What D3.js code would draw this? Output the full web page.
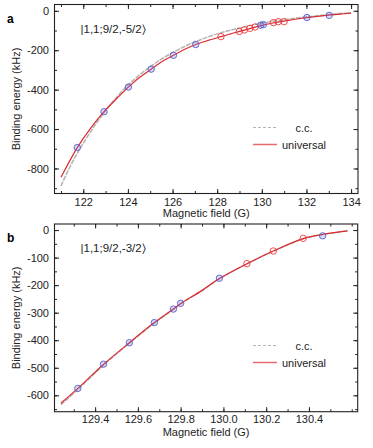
<!DOCTYPE html>
<html>
<head>
<meta charset="utf-8">
<script src="https://cdn.jsdelivr.net/npm/d3@7"></script>
<style>
  body { margin: 0; background: #fff; }
  svg { display: block; font-family: "Liberation Sans", Arial, sans-serif; }
</style>
</head>
<body>
<svg id="chart" width="373" height="448"></svg>
<script>
// ---- panel a data ----
var aUnivB = [121.0, 121.73, 122.3, 122.93, 123.5, 124.02, 124.5, 125.04, 125.5, 126.04, 126.5, 127.04, 127.6, 128.17, 128.6, 129.0, 129.5, 130.0, 130.5, 131.0, 131.5, 132.0, 132.5, 133.0, 133.5, 134.0];
var aUnivE = [-845, -694, -600, -512, -445, -387, -340, -296, -260, -226, -198, -171, -150, -131, -117, -104, -89, -74, -62, -52, -43, -35, -28, -22, -17, -12];
var aCcB = [121.0, 121.5, 122.0, 122.5, 123.0, 123.5, 124.0, 124.5, 125.0, 125.5, 126.0, 126.5, 127.0, 127.5, 128.0, 128.5, 129.0, 129.5, 130.0, 130.5, 131.0, 131.5, 132.0, 132.5, 133.0, 133.5, 134.0];
var aCcE = [-888, -770, -672, -585, -506, -438, -377, -327, -283, -245, -212, -183, -158, -136, -117, -101, -87, -74, -63, -53, -45, -37, -31, -25, -19, -14, -10];
var aBlueB = [121.73, 122.93, 124.02, 125.04, 126.04, 127.04, 129.95, 130.07, 132.02, 133.02];
var aBlueE = [-694, -512, -387, -296, -226, -171, -73, -70, -34, -23];
var aRedB = [128.17, 128.99, 129.22, 129.47, 129.70, 130.52, 130.74, 131.00];
var aRedE = [-131, -105, -97, -89, -82, -60, -55, -55];

// ---- panel b data ----
var bUnivB = [129.24, 129.319, 129.44, 129.56, 129.677, 129.766, 129.80, 129.90, 129.981, 130.11, 130.233, 130.373, 130.464, 130.58];
var bUnivE = [-629, -575, -487, -409, -336, -287, -267, -219, -176, -122, -76, -31, -16, -3];
var bCcB = [129.24, 129.319, 129.44, 129.56, 129.677, 129.766, 129.80, 129.90, 129.981, 130.11, 130.233, 130.373, 130.464, 130.58];
var bCcE = [-634, -579, -490, -411, -338, -288, -268, -220, -177, -123, -77, -32, -16, -3];
var bBlueB = [129.319, 129.439, 129.56, 129.677, 129.766, 129.80, 129.981, 130.464];
var bBlueE = [-575, -487, -409, -336, -287, -266, -175, -21];
var bRedB = [130.11, 130.233, 130.373];
var bRedE = [-122, -76, -30];

var RED = "#dd2a30", GRAY = "#b4b4b4", BLUE = "#5a5ac8";

var svg = d3.select("#chart");

function zip(xs, ys) {
    return xs.map(function (v, i) { return [v, ys[i]]; });
}

function range(a, b, step) {
    var out = [];
    for (var v = a; v <= b + step / 1000; v += step) out.push(+v.toFixed(4));
    return out;
}

function drawPanel(p) {
    var x = d3.scaleLinear().domain(p.xDomain).range([p.left, p.right]);
    var y = d3.scaleLinear().domain(p.yDomain).range([p.bottom, p.top]);
    var g = svg.append("g");

    // minor ticks on all four sides
    var minorX = range(p.xMinor[0], p.xMinor[1], p.xMinor[2]);
    var minorY = range(p.yMinor[0], p.yMinor[1], p.yMinor[2]);
    g.append("g").attr("transform", "translate(0," + p.bottom + ")")
        .call(d3.axisBottom(x).tickValues(minorX).tickSize(-2.5).tickFormat(""));
    g.append("g").attr("transform", "translate(0," + p.top + ")")
        .call(d3.axisTop(x).tickValues(minorX).tickSize(-2.5).tickFormat(""));
    g.append("g").attr("transform", "translate(" + p.left + ",0)")
        .call(d3.axisLeft(y).tickValues(minorY).tickSize(-2.5).tickFormat(""));
    g.append("g").attr("transform", "translate(" + p.right + ",0)")
        .call(d3.axisRight(y).tickValues(minorY).tickSize(-2.5).tickFormat(""));

    // major ticks
    g.append("g").attr("class", "xlab").attr("transform", "translate(0," + p.bottom + ")")
        .call(d3.axisBottom(x).tickValues(p.xTicks).tickSize(-4.5).tickPadding(p.xPad).tickFormat(p.xFmt));
    g.append("g").attr("transform", "translate(0," + p.top + ")")
        .call(d3.axisTop(x).tickValues(p.xTicks).tickSize(-4.5).tickFormat(""));
    g.append("g").attr("class", "ylab").attr("transform", "translate(" + p.left + ",0)")
        .call(d3.axisLeft(y).tickValues(p.yTicks).tickSize(-4.5).tickPadding(5.5).tickFormat(d3.format("d")));
    g.append("g").attr("transform", "translate(" + p.right + ",0)")
        .call(d3.axisRight(y).tickValues(p.yTicks).tickSize(-4.5).tickFormat(""));

    g.selectAll(".domain").remove();
    g.selectAll(".tick line").attr("stroke", "#222").attr("stroke-width", 1);
    g.selectAll(".tick text").attr("fill", "#222").attr("font-size", "11px")
        .attr("font-family", "Liberation Sans, Arial, sans-serif")
        .text(function () { return this.textContent.replace("\u2212", "-"); });

    // frame
    g.append("rect")
        .attr("x", p.left).attr("y", p.top)
        .attr("width", p.right - p.left).attr("height", p.bottom - p.top)
        .attr("fill", "none").attr("stroke", "#222").attr("stroke-width", 1.1);

    var line = d3.line()
        .x(function (d) { return x(d[0]); })
        .y(function (d) { return y(d[1]); })
        .curve(d3.curveCatmullRom.alpha(0.5));

    g.append("path").datum(zip(p.ccB, p.ccE))
        .attr("d", line).attr("fill", "none")
        .attr("stroke", GRAY).attr("stroke-width", 1.5).attr("stroke-dasharray", "5,1");
    g.append("path").datum(zip(p.univB, p.univE))
        .attr("d", line).attr("fill", "none")
        .attr("stroke", RED).attr("stroke-width", 1.2);

    // red markers
    g.selectAll(".red").data(zip(p.redB, p.redE)).enter()
        .append("circle").attr("class", "red")
        .attr("cx", function (d) { return x(d[0]); })
        .attr("cy", function (d) { return y(d[1]); })
        .attr("r", 3.2).attr("fill", "none")
        .attr("stroke", "#ee3a3a").attr("stroke-width", 0.9);

    // blue markers
    var blue = g.selectAll(".blue").data(zip(p.blueB, p.blueE)).enter()
        .append("g").attr("class", "blue")
        .attr("transform", function (d) { return "translate(" + x(d[0]) + "," + y(d[1]) + ")"; });
    blue.append("circle").attr("r", 3.2)
        .attr("fill", "rgba(120,120,220,0.25)")
        .attr("stroke", BLUE).attr("stroke-width", 0.9);

    // state label
    g.append("text")
        .attr("x", p.left + 26).attr("y", p.top + 28)
        .attr("font-size", "11.5px").attr("fill", "#222")
        .text(p.state);

    // panel letter
    g.append("text")
        .attr("x", 7).attr("y", p.top + 18)
        .attr("font-size", "12px").attr("font-weight", "bold")
        .attr("font-family", "Liberation Sans, Arial, sans-serif")
        .text(p.letter);

    // axis titles
    g.append("text")
        .attr("transform", "translate(20," + ((p.top + p.bottom) / 2) + ") rotate(-90)")
        .attr("text-anchor", "middle").attr("font-size", "11px").attr("fill", "#222")
        .text("Binding energy (kHz)");
    g.append("text")
        .attr("x", (p.left + p.right) / 2).attr("y", p.xTitleY)
        .attr("text-anchor", "middle").attr("font-size", "11px").attr("fill", "#222")
        .text("Magnetic field (G)");

    // legend
    var lg = g.append("g");
    lg.append("line")
        .attr("x1", 253).attr("x2", 277).attr("y1", p.legY).attr("y2", p.legY)
        .attr("stroke", GRAY).attr("stroke-width", 1.2).attr("stroke-dasharray", "3,2");
    lg.append("text").attr("x", 304).attr("y", p.legY + 4)
        .attr("text-anchor", "middle").attr("font-size", "11px").attr("fill", "#222")
        .text("c.c.");
    lg.append("line")
        .attr("x1", 253).attr("x2", 277).attr("y1", p.legY + 17).attr("y2", p.legY + 17)
        .attr("stroke", "#e66a70").attr("stroke-width", 1.5);
    lg.append("text").attr("x", 304).attr("y", p.legY + 21)
        .attr("text-anchor", "middle").attr("font-size", "11px").attr("fill", "#222")
        .text("universal");
}

drawPanel({
    letter: "a", state: "|1,1;9/2,-5/2\u232A",
    left: 54.5, right: 358, top: 4.5, bottom: 193.5,
    xDomain: [120.71, 134.31], yDomain: [-927, 32],
    xTicks: [122, 124, 126, 128, 130, 132, 134], xMinor: [121, 134, 1],
    yTicks: [-800, -600, -400, -200, 0], yMinor: [-900, 0, 100],
    xFmt: d3.format("d"), xPad: 4.5, xTitleY: 216.5, legY: 127.5,
    univB: aUnivB, univE: aUnivE, ccB: aCcB, ccE: aCcE,
    blueB: aBlueB, blueE: aBlueE, redB: aRedB, redE: aRedE
});

drawPanel({
    letter: "b", state: "|1,1;9/2,-3/2\u232A",
    left: 54.5, right: 357.7, top: 224, bottom: 411.7,
    xDomain: [129.21, 130.628], yDomain: [-659.5, 22],
    xTicks: [129.4, 129.6, 129.8, 130.0, 130.2, 130.4], xMinor: [129.3, 130.6, 0.1],
    yTicks: [-600, -500, -400, -300, -200, -100, 0], yMinor: [-650, 0, 50],
    xFmt: d3.format(".1f"), xPad: 4, xTitleY: 436, legY: 345.5,
    univB: bUnivB, univE: bUnivE, ccB: bCcB, ccE: bCcE,
    blueB: bBlueB, blueE: bBlueE, redB: bRedB, redE: bRedE
});
</script>
</body>
</html>
